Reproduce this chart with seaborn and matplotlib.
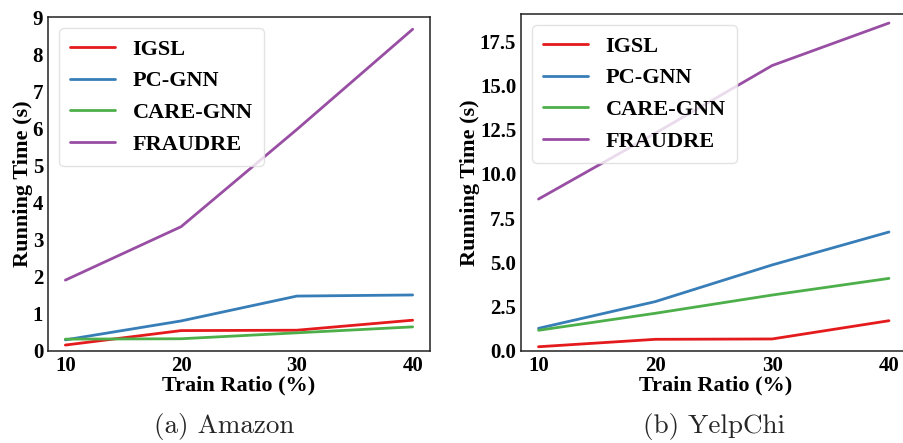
import matplotlib
matplotlib.use("Agg")
import matplotlib.pyplot as plt
import seaborn as sns
import pandas as pd

ratios = [10, 20, 30, 40]
methods = ["IGSL", "PC-GNN", "CARE-GNN", "FRAUDRE"]

amazon_igsl = [0.16, 0.55, 0.56, 0.83]
amazon_pcgnn = [0.30, 0.81, 1.48, 1.51]
amazon_care = [0.32, 0.33, 0.49, 0.65]
amazon_fraudre = [1.91, 3.35, 5.97, 8.67]

yelp_igsl = [0.24, 0.66, 0.68, 1.71]
yelp_pcgnn = [1.28, 2.79, 4.86, 6.72]
yelp_care = [1.17, 2.13, 3.16, 4.10]
yelp_fraudre = [8.58, 12.3, 16.12, 18.52]

amazon_ticks = [0, 1, 2, 3, 4, 5, 6, 7, 8, 9]
yelp_ticks = [0.0, 2.5, 5.0, 7.5, 10.0, 12.5, 15.0, 17.5]
captions = ["(a) Amazon", "(b) YelpChi"]


def long_df(series):
    rows = []
    for m, vals in zip(methods, series):
        for r, v in zip(ratios, vals):
            rows.append({"ratio": r, "time": v, "method": m})
    return pd.DataFrame(rows)


df_a = long_df([amazon_igsl, amazon_pcgnn, amazon_care, amazon_fraudre])
df_b = long_df([yelp_igsl, yelp_pcgnn, yelp_care, yelp_fraudre])

sns.set_style("white")
plt.rcParams["font.family"] = ["Liberation Serif", "DejaVu Serif"]
plt.rcParams["font.weight"] = "bold"

fig = plt.figure(figsize=(9.04, 4.43), dpi=100)
ax1 = fig.add_axes([48 / 904, 92 / 443, 382 / 904, 334 / 443])
ax2 = fig.add_axes([521 / 904, 92 / 443, 389 / 904, 337 / 443])

palette = sns.color_palette("Set1", 4)

for ax, df, ticks, ylim, fmt in [
    (ax1, df_a, amazon_ticks, (0, 9), "{:.0f}"),
    (ax2, df_b, yelp_ticks, (0, 19.03), "{:.1f}"),
]:
    sns.lineplot(data=df, x="ratio", y="time", hue="method", hue_order=methods,
                 palette=palette, linewidth=2, ax=ax)
    ax.set_xlim(8.5, 41.5 if ax is ax1 else 41.8)
    ax.set_ylim(*ylim)
    ax.set_xticks(ratios)
    ax.set_xticklabels([str(r) for r in ratios])
    ax.set_yticks(ticks)
    ax.set_yticklabels([fmt.format(t) for t in ticks])
    ax.tick_params(labelsize=15, length=0, pad=3.5, labelcolor="black")
    for lab in ax.get_xticklabels() + ax.get_yticklabels():
        lab.set_fontweight("bold")
    ax.set_xlabel("Train Ratio (%)", fontsize=16, fontweight="bold", labelpad=0, color="black")
    ax.set_ylabel("Running Time (s)", fontsize=16, fontweight="bold", labelpad=0, color="black")
    for sp in ax.spines.values():
        sp.set_visible(True)
        sp.set_color("#222222")
        sp.set_linewidth(1.1)
    leg = ax.legend(loc="upper left", prop={"family": "Liberation Serif", "weight": "bold", "size": 16},
                    handlelength=2.0, handletextpad=0.8, labelspacing=0.5,
                    borderpad=0.5, frameon=True, fancybox=True, framealpha=0.8,
                    bbox_to_anchor=(0.0, 1.0), borderaxespad=0.5)
    leg.get_frame().set_edgecolor("#dddddd")
    for t in leg.get_texts():
        t.set_color("black")
    for line in leg.get_lines():
        line.set_linewidth(2)

fig.text(224.5 / 904, 1 - 426 / 443, captions[0], family="cmr10", fontsize=19.5,
         ha="center", va="center", weight="normal")
fig.text(714.5 / 904, 1 - 426 / 443, captions[1], family="cmr10", fontsize=19.5,
         ha="center", va="center", weight="normal")

fig.savefig("out.png", dpi=100)
